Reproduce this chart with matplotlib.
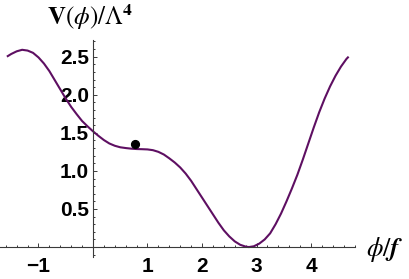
#!/usr/bin/env python3

import matplotlib
matplotlib.use("Agg")
import matplotlib.pyplot as plt
from matplotlib.ticker import FixedLocator, FixedFormatter, MultipleLocator


# potential
phi = [
    -1.58, -1.50, -1.40, -1.30, -1.20, -1.10, -1.00, -0.90, -0.80, -0.70,
    -0.60, -0.50, -0.40, -0.30, -0.20, -0.10, 0.00, 0.10, 0.20, 0.30,
    0.40, 0.50, 0.60, 0.70, 0.80, 0.90, 1.00, 1.10, 1.20, 1.30,
    1.40, 1.50, 1.60, 1.70, 1.80, 1.90, 2.00, 2.10, 2.20, 2.30,
    2.40, 2.50, 2.60, 2.70, 2.80, 2.86, 2.95, 3.05, 3.15, 3.25,
    3.35, 3.45, 3.55, 3.65, 3.75, 3.85, 3.95, 4.05, 4.15, 4.25,
    4.35, 4.45, 4.55, 4.65, 4.69,
]
potential = [
    2.50, 2.535, 2.57, 2.59, 2.58, 2.55, 2.49, 2.41, 2.31, 2.19,
    2.07, 1.95, 1.84, 1.745, 1.655, 1.585, 1.52, 1.46, 1.405, 1.36,
    1.33, 1.31, 1.30, 1.292, 1.287, 1.285, 1.282, 1.272, 1.25, 1.215,
    1.165, 1.11, 1.045, 0.965, 0.87, 0.76, 0.65, 0.54, 0.43, 0.32,
    0.22, 0.14, 0.075, 0.03, 0.006, 0.00, 0.01, 0.045, 0.10, 0.18,
    0.30, 0.44, 0.60, 0.77, 0.95, 1.15, 1.36, 1.57, 1.77, 1.95,
    2.11, 2.25, 2.37, 2.47, 2.50,
]

# the marked point
dot_phi = [0.77]
dot_v = [1.35]

x_ticks = [-1, 1, 2, 3, 4]
x_tick_labels = ["\u22121", "1", "2", "3", "4"]
y_ticks = [0.5, 1.0, 1.5, 2.0, 2.5]
y_tick_labels = ["0.5", "1.0", "1.5", "2.0", "2.5"]

line_color = "#5e0f62"
axis_color = "#3a3a3a"

plt.rcParams["mathtext.fontset"] = "stix"

fig = plt.figure(figsize=(4.09, 2.79), dpi=100)
ax = fig.add_axes([0.0, 0.079, 0.868, 0.778])

ax.plot(phi, potential, color=line_color, linewidth=1.5,
        solid_joinstyle="round", solid_capstyle="butt")
ax.plot(dot_phi, dot_v, "o", color="black", markersize=5.6, zorder=5)

ax.set_xlim(-1.706, 4.807)
ax.set_ylim(-0.13, 2.72)

for side in ["top", "right"]:
    ax.spines[side].set_visible(False)
for side in ["left", "bottom"]:
    ax.spines[side].set_position(("data", 0))
    ax.spines[side].set_color(axis_color)
    ax.spines[side].set_linewidth(0.8)

ax.xaxis.set_major_locator(FixedLocator(x_ticks))
ax.xaxis.set_major_formatter(FixedFormatter(x_tick_labels))
ax.xaxis.set_minor_locator(MultipleLocator(0.2))
ax.yaxis.set_major_locator(FixedLocator(y_ticks))
ax.yaxis.set_major_formatter(FixedFormatter(y_tick_labels))
ax.yaxis.set_minor_locator(MultipleLocator(0.1))

ax.tick_params(which="both", direction="in", color=axis_color, width=0.7)
ax.tick_params(which="major", length=3.0)
ax.tick_params(which="minor", length=1.6)
ax.tick_params(axis="x", which="major", pad=7)
ax.tick_params(axis="y", which="major", pad=3)
for lab in ax.get_xticklabels() + ax.get_yticklabels():
    lab.set_fontfamily("Liberation Sans")
    lab.set_fontweight("bold")
    lab.set_fontsize(15)

fig.text(90 / 409, 1 - 2 / 279, r"$\mathbf{V}(\phi)/\Lambda^{\mathbf{4}}$",
         fontsize=18, ha="center", va="top")
fig.text(385 / 409, 1 - 250 / 279, r"$\phi/\mathbfit{f}$",
         fontsize=19, ha="center", va="center")

fig.savefig("out.png", dpi=100)
